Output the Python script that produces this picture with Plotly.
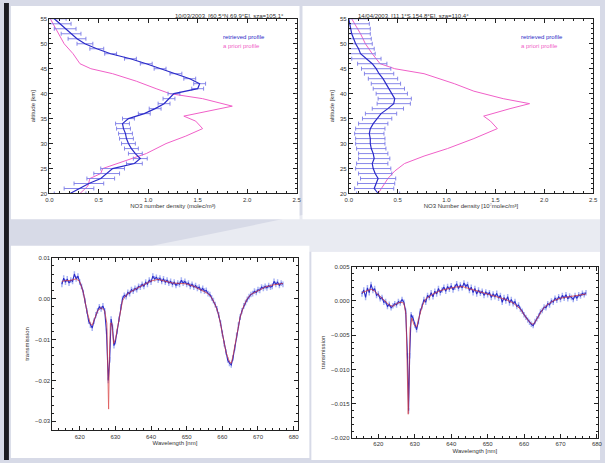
import plotly.graph_objects as go

W, H = 605, 463

# ---------------- data: top-left profile ----------------
alt_ret = list(range(20, 56))
tl_ret = [0.21, 0.30, 0.40, 0.52, 0.58, 0.64, 0.86, 0.92, 0.87, 0.83, 0.80, 0.78,
          0.77, 0.75, 0.74, 0.80, 0.96, 1.07, 1.16, 1.21, 1.26, 1.50, 1.52, 1.42,
          1.28, 1.12, 0.98, 0.82, 0.62, 0.48, 0.36, 0.28, 0.22, 0.16, 0.10, 0.05]
tl_err = [0.16, 0.15, 0.15, 0.14, 0.13, 0.12, 0.08, 0.07, 0.07, 0.07, 0.07, 0.07,
          0.07, 0.07, 0.07, 0.06, 0.06, 0.06, 0.06, 0.06, 0.06, 0.06, 0.06, 0.06,
          0.06, 0.06, 0.06, 0.06, 0.06, 0.07, 0.08, 0.09, 0.10, 0.11, 0.12, 0.12]
alt_apr_tl = [20, 21.5, 23, 24, 25, 26.5, 28, 30, 31.5, 33, 34.5, 35.5, 36.5, 37.5,
              39, 40, 41, 42.5, 44, 45, 46, 48, 50, 53, 55]
tl_apr = [0.31, 0.39, 0.41, 0.52, 0.54, 0.77, 0.98, 1.18, 1.38, 1.55, 1.48, 1.36,
          1.60, 1.85, 1.55, 1.22, 1.08, 0.88, 0.64, 0.42, 0.31, 0.24, 0.15, 0.07, 0.01]

# ---------------- data: top-right profile ----------------
tr_ret = [0.30, 0.26, 0.28, 0.30, 0.27, 0.25, 0.24, 0.26, 0.25, 0.23, 0.22, 0.22,
          0.21, 0.22, 0.25, 0.29, 0.33, 0.40, 0.46, 0.47, 0.44, 0.41, 0.38, 0.35,
          0.31, 0.28, 0.24, 0.18, 0.12, 0.10, 0.07, 0.05, 0.03, 0.02, 0.01, 0.00]
tr_err = [0.22, 0.20, 0.19, 0.18, 0.17, 0.18, 0.16, 0.16, 0.15, 0.15, 0.15, 0.15,
          0.15, 0.15, 0.15, 0.15, 0.16, 0.16, 0.17, 0.17, 0.16, 0.16, 0.15, 0.15,
          0.15, 0.15, 0.15, 0.15, 0.15, 0.16, 0.17, 0.18, 0.19, 0.20, 0.20, 0.20]
alt_apr_tr = [20, 21.5, 23, 24.5, 26, 27.5, 29, 31, 33, 34.5, 35.5, 37, 38, 39,
              40.5, 42, 44, 45, 46, 48, 50, 52, 55]
tr_apr = [0.30, 0.35, 0.40, 0.47, 0.57, 0.77, 1.01, 1.28, 1.52, 1.45, 1.38, 1.65,
          1.85, 1.58, 1.28, 1.08, 0.77, 0.47, 0.32, 0.24, 0.17, 0.12, 0.03]

# ---------------- data: bottom-left spectrum ----------------
bl_wl = [615.0, 615.5, 616.0, 616.5, 617.0, 617.5, 618.0, 618.5, 619.0, 619.5,
         620.0, 620.5, 621.0, 621.5, 622.0, 622.5, 623.0, 623.5, 624.0, 624.5,
         625.0, 625.5, 626.0, 626.5, 627.0, 627.5, 628.0, 628.4, 628.8, 629.2,
         629.6, 630.0, 630.5, 631.0, 631.5, 632.0, 632.5, 633.0, 633.5, 634.0,
         634.5, 635.0, 635.5, 636.0, 636.5, 637.0, 637.5, 638.0, 638.5, 639.0,
         639.5, 640.0, 640.5, 641.0, 641.5, 642.0, 642.5, 643.0, 643.5, 644.0,
         644.5, 645.0, 645.5, 646.0, 646.5, 647.0, 647.5, 648.0, 648.5, 649.0,
         649.5, 650.0, 650.5, 651.0, 651.5, 652.0, 652.5, 653.0, 653.5, 654.0,
         654.5, 655.0, 655.5, 656.0, 656.5, 657.0, 657.5, 658.0, 658.5, 659.0,
         659.5, 660.0, 660.5, 661.0, 661.5, 662.0, 662.5, 663.0, 663.5, 664.0,
         664.5, 665.0, 665.5, 666.0, 666.5, 667.0, 667.5, 668.0, 668.5, 669.0,
         669.5, 670.0, 670.5, 671.0, 671.5, 672.0, 672.5, 673.0, 673.5, 674.0,
         674.5, 675.0, 675.5, 676.0, 676.5, 677.0]
bl_meas = [0.0035, 0.0050, 0.0040, 0.0048, 0.0038, 0.0045, 0.0042, 0.0060, 0.0048, 0.0055,
           0.0040, 0.0030, 0.0015, -0.0005, -0.0030, -0.0055, -0.0065, -0.0072, -0.0055, -0.0040,
           -0.0030, -0.0020, -0.0025, -0.0018, -0.0030, -0.0080, -0.0200, -0.0150, -0.0050, -0.0070,
           -0.0115, -0.0105, -0.0080, -0.0050, -0.0020, 0.0000, 0.0008, 0.0005, 0.0015, 0.0012,
           0.0022, 0.0018, 0.0025, 0.0022, 0.0030, 0.0028, 0.0035, 0.0030, 0.0040, 0.0035,
           0.0045, 0.0040, 0.0055, 0.0048, 0.0052, 0.0045, 0.0050, 0.0042, 0.0048, 0.0040,
           0.0045, 0.0038, 0.0042, 0.0035, 0.0040, 0.0032, 0.0038, 0.0035, 0.0045, 0.0038,
           0.0042, 0.0035, 0.0038, 0.0030, 0.0035, 0.0028, 0.0032, 0.0025, 0.0028, 0.0020,
           0.0025, 0.0018, 0.0020, 0.0012, 0.0010, 0.0002, -0.0005, -0.0015, -0.0025, -0.0040,
           -0.0060, -0.0085, -0.0110, -0.0130, -0.0150, -0.0158, -0.0162, -0.0145, -0.0120, -0.0090,
           -0.0065, -0.0045, -0.0030, -0.0018, -0.0010, -0.0002, 0.0005, 0.0010, 0.0012, 0.0018,
           0.0015, 0.0022, 0.0020, 0.0028, 0.0025, 0.0030, 0.0026, 0.0032, 0.0028, 0.0030,
           0.0042, 0.0035, 0.0040, 0.0032, 0.0038, 0.0035]
bl_err = 0.0007
bl_model_wl = [615, 616, 617, 618, 619, 620, 621, 622, 623, 623.5, 624, 625, 626, 627,
               627.6, 627.9, 628.1, 628.3, 628.6, 629.0, 629.5, 630, 631, 632, 633, 634,
               636, 638, 640, 642, 644, 646, 648, 650, 652, 654, 656, 657, 658, 659, 660,
               661, 662, 662.5, 663, 664, 665, 666, 667, 668, 670, 672, 674, 676, 677]
bl_model = [0.0042, 0.0044, 0.0044, 0.0046, 0.0048, 0.0042, 0.0015, -0.0030, -0.0062, -0.0065,
            -0.0052, -0.0030, -0.0022, -0.0030, -0.0060, -0.0150, -0.0270, -0.0150, -0.0060, -0.0060,
            -0.0110, -0.0100, -0.0050, -0.0005, 0.0008, 0.0015, 0.0025, 0.0035, 0.0043, 0.0047,
            0.0043, 0.0038, 0.0037, 0.0036, 0.0030, 0.0022, 0.0012, 0.0002, -0.0015, -0.0040,
            -0.0085, -0.0130, -0.0155, -0.0158, -0.0140, -0.0088, -0.0045, -0.0018, 0.0000, 0.0010,
            0.0020, 0.0028, 0.0033, 0.0036, 0.0037]

# ---------------- data: bottom-right spectrum ----------------
br_wl = [615.5, 616.0, 616.5, 617.0, 617.5, 618.0, 618.5, 619.0, 619.5, 620.0,
         620.5, 621.0, 621.5, 622.0, 622.5, 623.0, 623.5, 624.0, 624.5, 625.0,
         625.5, 626.0, 626.5, 627.0, 627.5, 628.0, 628.3, 628.6, 629.0, 629.5,
         630.0, 630.5, 631.0, 631.5, 632.0, 632.5, 633.0, 633.5, 634.0, 634.5,
         635.0, 635.5, 636.0, 636.5, 637.0, 637.5, 638.0, 638.5, 639.0, 639.5,
         640.0, 640.5, 641.0, 641.5, 642.0, 642.5, 643.0, 643.5, 644.0, 644.5,
         645.0, 645.5, 646.0, 646.5, 647.0, 647.5, 648.0, 648.5, 649.0, 649.5,
         650.0, 650.5, 651.0, 651.5, 652.0, 652.5, 653.0, 653.5, 654.0, 654.5,
         655.0, 655.5, 656.0, 656.5, 657.0, 657.5, 658.0, 658.5, 659.0, 659.5,
         660.0, 660.5, 661.0, 661.5, 662.0, 662.5, 663.0, 663.5, 664.0, 664.5,
         665.0, 665.5, 666.0, 666.5, 667.0, 667.5, 668.0, 668.5, 669.0, 669.5,
         670.0, 670.5, 671.0, 671.5, 672.0, 672.5, 673.0, 673.5, 674.0, 674.5,
         675.0, 675.5, 676.0, 676.5, 677.0]
br_meas = [0.0010, 0.0016, 0.0005, 0.0019, 0.0012, 0.0024, 0.0015, 0.0018, 0.0008, 0.0010,
           0.0003, 0.0005, -0.0002, -0.0001, -0.0008, -0.0005, -0.0010, -0.0007, -0.0004, -0.0006,
           -0.0001, -0.0003, 0.0002, -0.0002, -0.0015, -0.0080, -0.0160, -0.0080, -0.0020, -0.0025,
           -0.0035, -0.0042, -0.0030, -0.0015, -0.0008, 0.0002, -0.0002, 0.0008, 0.0005, 0.0012,
           0.0006, 0.0014, 0.0010, 0.0018, 0.0012, 0.0016, 0.0020, 0.0014, 0.0021, 0.0017,
           0.0022, 0.0016, 0.0020, 0.0025, 0.0018, 0.0023, 0.0019, 0.0026, 0.0021, 0.0024,
           0.0015, 0.0020, 0.0012, 0.0018, 0.0010, 0.0016, 0.0011, 0.0014, 0.0008, 0.0013,
           0.0009, 0.0012, 0.0005, 0.0010, 0.0006, 0.0011, 0.0004, 0.0008, -0.0002, 0.0005,
           0.0000, 0.0006, -0.0003, 0.0002, -0.0004, -0.0001, -0.0008, -0.0006, -0.0012, -0.0015,
           -0.0020, -0.0024, -0.0028, -0.0031, -0.0034, -0.0036, -0.0030, -0.0026, -0.0022, -0.0016,
           -0.0014, -0.0009, -0.0010, -0.0004, -0.0006, 0.0000, -0.0002, 0.0004, 0.0001, 0.0006,
           0.0002, 0.0008, 0.0004, 0.0009, 0.0003, 0.0007, 0.0005, 0.0002, 0.0008, 0.0004,
           0.0009, 0.0007, 0.0011, 0.0009, 0.0012]
br_err = 0.0004
br_model_wl = [615.5, 617, 618, 619, 620, 621, 622, 623, 624, 625, 626, 627, 627.6, 627.9,
               628.2, 628.4, 628.7, 629.2, 629.8, 630.5, 631, 632, 633, 635, 637, 639, 641,
               643, 645, 647, 649, 651, 653, 655, 657, 658, 659, 660, 661, 662, 662.5, 663,
               664, 665, 666, 667, 668, 670, 672, 674, 676, 677]
br_model = [0.0012, 0.0015, 0.0017, 0.0014, 0.0009, 0.0003, -0.0002, -0.0006, -0.0008, -0.0004,
            -0.0002, -0.0003, -0.0020, -0.0080, -0.0165, -0.0120, -0.0040, -0.0025, -0.0035, -0.0038,
            -0.0028, -0.0008, 0.0003, 0.0010, 0.0015, 0.0018, 0.0020, 0.0021, 0.0018, 0.0014,
            0.0011, 0.0008, 0.0006, 0.0002, -0.0003, -0.0007, -0.0012, -0.0020, -0.0028, -0.0033,
            -0.0034, -0.0031, -0.0022, -0.0013, -0.0007, -0.0003, 0.0000, 0.0004, 0.0006, 0.0007,
            0.0009, 0.0010]

# ---------------- text ----------------
title_tl = "10/03/2003, [60.5°N,69.9°E], sza=105.1°"
title_tr = "14/04/2003, [11.1°S,154.8°E], sza=110.4°"
xtitle_tl = "NO3 number density (molec/m³)"
xtitle_tr = "NO3 Number density [10⁷molec/m³]"
ytitle_prof = "altitude [km]"
ytitle_spec = "transmission"
xtitle_spec = "Wavelength [nm]"
legend_ret = "retrieved profile"
legend_apr = "a priori profile"
prof_xticks = [0.0, 0.5, 1.0, 1.5, 2.0, 2.5]
prof_yticks = [20, 25, 30, 35, 40, 45, 50, 55]
spec_xticks = [620, 630, 640, 650, 660, 670, 680]
bl_yticks = [0.01, 0.00, -0.01, -0.02, -0.03]
br_yticks = [0.005, 0.000, -0.005, -0.010, -0.015, -0.020]

BLUE = "#2b2bc8"
MAG = "#f060c8"
RED = "#d83a3a"
EB = "#7a7ae6"
EB_LIGHT = "#a8b4f4"

def px(x):
    return x / W

def py(y):
    return 1 - y / H

fig = go.Figure()

# top-left
fig.add_trace(go.Scatter(x=tl_apr, y=alt_apr_tl, mode="lines", line=dict(color=MAG, width=1),
                         xaxis="x", yaxis="y", hoverinfo="skip"))
fig.add_trace(go.Scatter(x=tl_ret, y=alt_ret, mode="lines", line=dict(color=BLUE, width=1.2),
                         error_x=dict(type="data", array=tl_err, color=EB, thickness=0.9, width=2),
                         xaxis="x", yaxis="y"))
# top-right
fig.add_trace(go.Scatter(x=tr_apr, y=alt_apr_tr, mode="lines", line=dict(color=MAG, width=1),
                         xaxis="x2", yaxis="y2"))
fig.add_trace(go.Scatter(x=tr_ret, y=alt_ret, mode="lines", line=dict(color=BLUE, width=1.2),
                         error_x=dict(type="data", array=tr_err, color=EB, thickness=0.9, width=2),
                         xaxis="x2", yaxis="y2"))
# bottom-left
fig.add_trace(go.Scatter(x=bl_wl, y=bl_meas, mode="lines", line=dict(color=BLUE, width=1.1),
                         error_y=dict(type="constant", value=bl_err, color=EB_LIGHT, thickness=1.5, width=0),
                         xaxis="x3", yaxis="y3"))
fig.add_trace(go.Scatter(x=bl_model_wl, y=bl_model, mode="lines", line=dict(color=RED, width=0.9),
                         opacity=0.8, xaxis="x3", yaxis="y3"))
# bottom-right
fig.add_trace(go.Scatter(x=br_wl, y=br_meas, mode="lines", line=dict(color=BLUE, width=1.1),
                         error_y=dict(type="constant", value=br_err, color=EB_LIGHT, thickness=1.5, width=0),
                         xaxis="x4", yaxis="y4"))
fig.add_trace(go.Scatter(x=br_model_wl, y=br_model, mode="lines", line=dict(color=RED, width=0.9),
                         opacity=0.8, xaxis="x4", yaxis="y4"))

tick_font = dict(family="Liberation Sans, Arial, sans-serif", size=6, color="#333")
title_font = dict(family="Liberation Sans, Arial, sans-serif", size=6, color="#333")

def ax(domain, anchor, rng, tickvals, title, fmt=None, standoff=2, dtick_minor=None):
    d = dict(domain=domain, anchor=anchor, range=rng, tickvals=tickvals,
             showline=True, linecolor="#222", linewidth=1, mirror="allticks",
             ticks="inside", ticklen=4, tickcolor="#222", tickwidth=1,
             showgrid=False, zeroline=False, tickfont=tick_font,
             title=dict(text=title, font=title_font, standoff=standoff))
    if fmt:
        d["tickformat"] = fmt
    if dtick_minor:
        d["minor"] = dict(dtick=dtick_minor, ticks="inside", ticklen=2, tickcolor="#222", showgrid=False)
    return d

layout = dict(
    width=W, height=H, margin=dict(l=0, r=0, t=0, b=0),
    paper_bgcolor="#d7dae7", plot_bgcolor="white", showlegend=False,
    xaxis=ax([px(46), px(297)], "y", [0, 2.5], prof_xticks, xtitle_tl, ".1f", 2, 0.1),
    yaxis=ax([py(193), py(16)], "x", [20, 55], prof_yticks, ytitle_prof, None, 4, 1),
    xaxis2=ax([px(350), px(598)], "y2", [0, 2.5], prof_xticks, xtitle_tr, ".1f", 2, 0.1),
    yaxis2=ax([py(193), py(16)], "x2", [20, 55], prof_yticks, ytitle_prof, None, 4, 1),
    xaxis3=ax([px(49), px(298)], "y3", [612.3, 681.1], spec_xticks, xtitle_spec, None, 2, 2),
    yaxis3=ax([py(433), py(258)], "x3", [-0.0322, 0.0100], bl_yticks, ytitle_spec, ".2f", 4, 0.002),
    xaxis4=ax([px(353), px(603)], "y4", [612.7, 680.3], spec_xticks, xtitle_spec, None, 2, 2),
    yaxis4=ax([py(441), py(267)], "x4", [-0.020, 0.005], br_yticks, ytitle_spec, ".3f", 4, 0.001),
)
fig.update_layout(**layout)

# background decoration: white panels, dark left strip, light swoosh
shapes = [
    dict(type="rect", xref="paper", yref="paper", x0=0, x1=px(5), y0=0, y1=1,
         fillcolor="#1c1c22", line_width=0, layer="below"),
    dict(type="path", xref="paper", yref="paper",
         path=f"M {px(150)},{py(246)} Q {px(380)},{py(200)} {px(605)},{py(150)} L {px(605)},{py(252)} L {px(310)},{py(252)} Z",
         fillcolor="rgba(255,255,255,0.45)", line_width=0, layer="below"),
    dict(type="rect", xref="paper", yref="paper", x0=px(7), x1=px(300), y0=py(219), y1=py(3),
         fillcolor="white", line_width=0, layer="below"),
    dict(type="rect", xref="paper", yref="paper", x0=px(303), x1=px(605), y0=py(219), y1=py(3),
         fillcolor="white", line_width=0, layer="below"),
    dict(type="rect", xref="paper", yref="paper", x0=px(7), x1=px(310), y0=py(461), y1=py(246),
         fillcolor="white", line_width=0, layer="below"),
    dict(type="rect", xref="paper", yref="paper", x0=px(312), x1=px(605), y0=py(463), y1=py(252),
         fillcolor="white", line_width=0, layer="below"),
]
fig.update_layout(shapes=shapes)

ann_font = dict(family="Liberation Sans, Arial, sans-serif", size=6)
annotations = [
    dict(text=title_tl, x=px(172), y=py(8), xref="paper", yref="paper", showarrow=False,
         font=dict(color="#333", **ann_font)),
    dict(text=title_tr, x=px(474), y=py(8), xref="paper", yref="paper", showarrow=False,
         font=dict(color="#333", **ann_font)),
    dict(text=legend_ret, x=px(220), y=py(29), xref="paper", yref="paper", showarrow=False,
         xanchor="left", font=dict(color=BLUE, **ann_font)),
    dict(text=legend_apr, x=px(220), y=py(39), xref="paper", yref="paper", showarrow=False,
         xanchor="left", font=dict(color=MAG, **ann_font)),
    dict(text=legend_ret, x=px(523), y=py(29), xref="paper", yref="paper", showarrow=False,
         xanchor="left", font=dict(color=BLUE, **ann_font)),
    dict(text=legend_apr, x=px(523), y=py(39), xref="paper", yref="paper", showarrow=False,
         xanchor="left", font=dict(color=MAG, **ann_font)),
]
fig.update_layout(annotations=annotations)

fig.write_html("out.html")
